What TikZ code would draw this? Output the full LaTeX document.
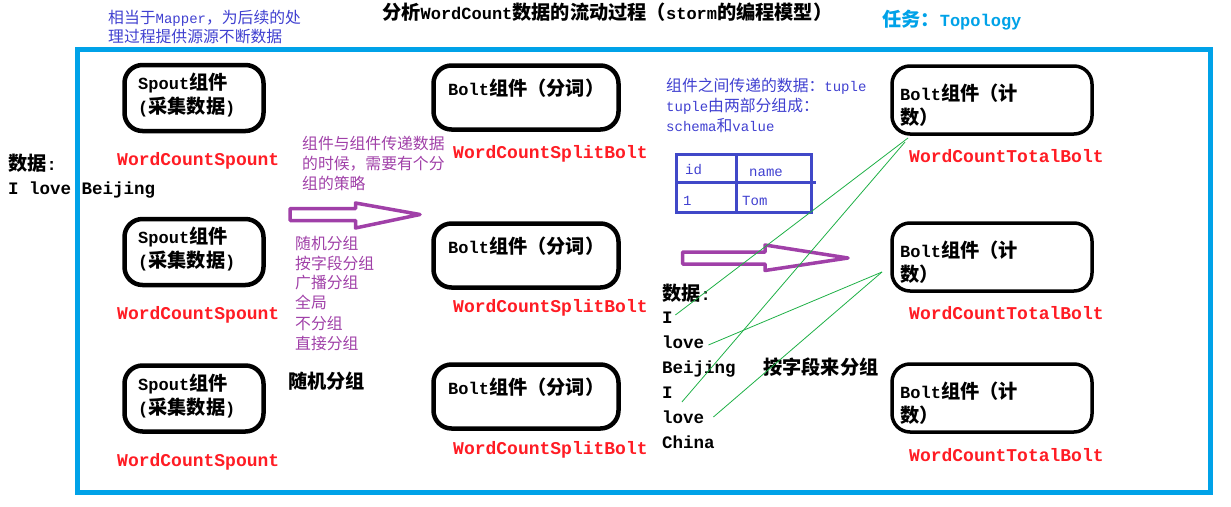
\documentclass[tikz,border=0pt]{standalone}
\usepackage{fontspec}
\setmainfont{Liberation Mono}
\newfontfamily\cjk[Scale=1.13]{Noto Sans CJK SC}
\newcommand{\zh}[1]{{\cjk #1}}
\usetikzlibrary{positioning}
\definecolor{framecyan}{RGB}{0,162,232}
\definecolor{noteblue}{RGB}{64,64,208}
\definecolor{tableblue}{RGB}{64,72,200}
\definecolor{grouppurple}{RGB}{160,64,168}
\definecolor{wcred}{RGB}{255,28,36}
\definecolor{wiregreen}{RGB}{30,176,70}

\begin{document}
\begin{tikzpicture}[x=1pt, y=-1pt,
  every node/.style={inner sep=0pt, anchor=west},
  oneline/.style={text height=#1, text depth=0pt},
  compbox/.style={draw, line width=4.5pt, rounded corners=18pt, anchor=center},
  boldtxt/.style={font=\bfseries\fontsize{17}{24}\selectfont, align=left},
  datatxt/.style={oneline=13pt, font=\bfseries\fontsize{17.5}{25}\selectfont},
  redtxt/.style={oneline=13pt, text=wcred, font=\bfseries\fontsize{18}{20}\selectfont},
  bluetxt/.style={text=noteblue, font=\fontsize{14}{20}\selectfont, align=left},
  purpletxt/.style={text=grouppurple, font=\fontsize{14}{20}\selectfont, align=left},
  blockarrow/.style={draw=grouppurple, line width=3.5pt, line join=round, fill=white},
  wire/.style={wiregreen, line width=0.8pt}]
\useasboundingbox (0,0) rectangle (1231,506);

% headings
\node[oneline=15pt, font=\bfseries\fontsize{17}{20}\selectfont] (title) at (382,12) {\zh{分析}WordCount\zh{数据的流动过程（}storm\zh{的编程模型）}};
\node[oneline=14pt, text=framecyan, font=\bfseries\fontsize{17}{20}\selectfont] (task) at (882,20) {\zh{任务：}Topology};
\node[bluetxt, font=\fontsize{14}{19}\selectfont] (mapper) at (108,26.5) {\zh{相当于}Mapper\zh{，为后续的处}\\\zh{理过程提供源源不断数据}};

% input sentence
\node[boldtxt, oneline=14.6pt] (input) at (8,163) {\zh{数据}:};
\node[datatxt] (sentence) at (8,188) {I love Beijing};

% spouts
\foreach \y/\r [count=\i] in {98/159, 252/313, 398.5/460} {
  \node[compbox, minimum width=139pt, minimum height=66pt] (spout\i) at (194,\y) {};
  \node[boldtxt] (spout\i txt) at (138,\y-3) {Spout\zh{组件}\\(\zh{采集数据})};
  \node[redtxt] (spout\i name) at (117,\r) {WordCountSpount};
}

% split bolts
\foreach \y/\r [count=\i] in {97.5/152, 255.5/306, 396.5/448} {
  \node[compbox, minimum width=185pt, minimum height=64pt] (split\i) at (526,\y) {};
  \node[boldtxt] (split\i txt) at (448,\y-9) {Bolt\zh{组件（分词）}};
  \node[redtxt] (split\i name) at (453,\r) {WordCountSplitBolt};
}

% total bolts
\foreach \y/\r [count=\i] in {100/156, 257/313, 398/455} {
  \node[compbox, line width=3.5pt, minimum width=200pt, minimum height=68pt] (total\i) at (992,\y) {};
  \node[boldtxt] (total\i txt) at (900,\y+5) {Bolt\zh{组件（计}\\\zh{数）}};
  \node[redtxt] (total\i name) at (909,\r) {WordCountTotalBolt};
}

% grouping notes
\node[purpletxt] (strategy) at (302,163) {\zh{组件与组件传递数据}\\\zh{的时候，需要有个分}\\\zh{组的策略}};
\node[purpletxt] (groupings) at (295,293) {\zh{随机分组}\\\zh{按字段分组}\\\zh{广播分组}\\\zh{全局}\\\zh{不分组}\\\zh{直接分组}};
\node[boldtxt, oneline=14.6pt] (shuffle) at (288,381) {\zh{随机分组}};
\draw[blockarrow] (290,208.5) -- (355.5,208.5) -- (355.5,203) -- (420,214.5) -- (355.5,228) -- (355.5,220.5) -- (290,220.5) -- cycle;
\draw[blockarrow] (682.5,252) -- (765,252) -- (765,245) -- (848,258) -- (765,270.5) -- (765,264) -- (682.5,264) -- cycle;

% tuple
\node[bluetxt] (tuple) at (666,105) {\zh{组件之间传递的数据：}tuple\\tuple\zh{由两部分组成：}\\schema\zh{和}value};
\draw[tableblue, line width=3pt] (676,154) rectangle (811,212) (736,154) -- (736,212) (676,182) -- (816,182);
\node[bluetxt, oneline=10pt] (colid) at (685,169) {id};
\node[bluetxt, oneline=10pt] (colname) at (749,171) {name};
\node[bluetxt, oneline=10pt] (cellid) at (683,200) {1};
\node[bluetxt, oneline=10pt] (cellname) at (742,200) {Tom};

% words after splitting
\node[boldtxt, oneline=14.6pt] (data) at (662,293) {\zh{数据}:};
\foreach \w [count=\i] in {I,love,Beijing,I,love,China}
  \node[datatxt] (w\i) at (662,292+25*\i) {\w};
\node[boldtxt, oneline=14.6pt] (byfield) at (763,367) {\zh{按字段来分组}};

% fields grouping
\coordinate (t1a) at (908,138);
\coordinate (t1b) at (905,142);
\coordinate (t2in) at (882,272);
\draw[wire] ([xshift=2.5pt,yshift=2pt]w1.east) -- (t1a);
\draw[wire] ([xshift=9pt,yshift=-10pt]w4.east) -- (t1b);
\draw[wire] ([xshift=4pt,yshift=-3pt]w2.east) -- (t2in);
\draw[wire] ([xshift=9pt]w5.east) -- (t2in);

% topology frame
\draw[framecyan, line width=5pt] (77.5,49.5) rectangle (1210.5,492.5);
\end{tikzpicture}
\end{document}
